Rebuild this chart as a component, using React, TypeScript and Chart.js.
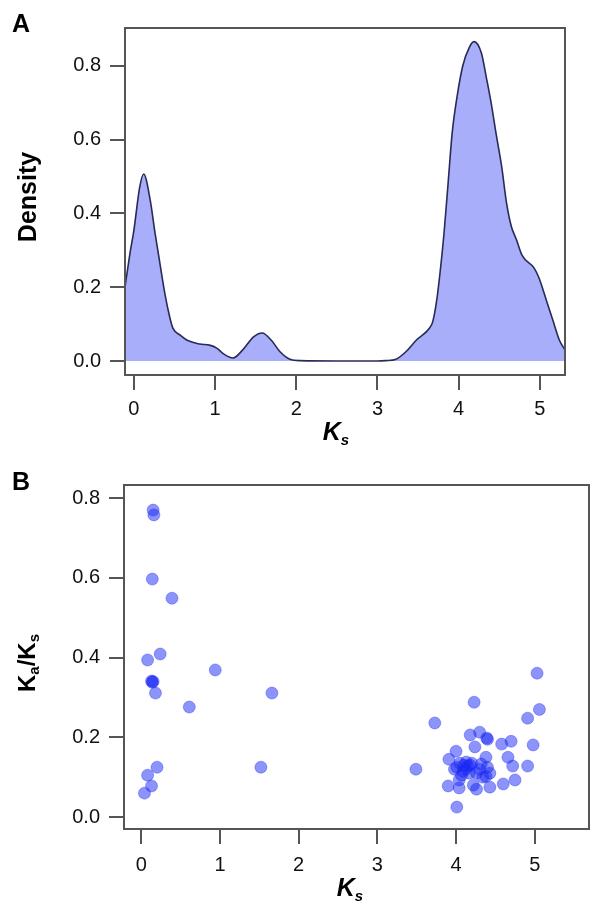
import React, { useEffect, useRef } from 'react';
import { Chart, registerables } from 'chart.js';

Chart.register(...registerables);

// ---------- Panel A: density of Ks ----------
const densityKs = [
  -0.11, -0.05, 0.0, 0.07, 0.12, 0.2, 0.26, 0.32, 0.38, 0.44, 0.48, 0.57, 0.65, 0.81, 0.93,
  1.02, 1.1, 1.22, 1.34, 1.47, 1.58, 1.69, 1.8, 1.92, 2.05, 2.5, 3.0, 3.1, 3.23, 3.35, 3.48,
  3.64, 3.68, 3.73, 3.77, 3.82, 3.87, 3.92, 3.98, 4.05, 4.13, 4.19, 4.28, 4.34, 4.4, 4.46,
  4.53, 4.59, 4.65, 4.71, 4.78, 4.93, 4.99, 5.08, 5.16, 5.24, 5.31,
];
const densityValues = [
  0.2, 0.29, 0.355, 0.47, 0.507, 0.437, 0.347, 0.265, 0.184, 0.12, 0.089, 0.07, 0.057, 0.046, 0.043,
  0.035, 0.02, 0.008, 0.03, 0.065, 0.076, 0.057, 0.025, 0.005, 0.001, 0.0, 0.0, 0.001, 0.005, 0.025, 0.057,
  0.089, 0.106, 0.165, 0.238, 0.347, 0.482, 0.618, 0.716, 0.8, 0.85, 0.866, 0.835, 0.77, 0.7, 0.618,
  0.527, 0.428, 0.364, 0.33, 0.287, 0.252, 0.225, 0.165, 0.111, 0.057, 0.03,
];
const densityTicksX = [0, 1, 2, 3, 4, 5];
const densityTicksY = [0.0, 0.2, 0.4, 0.6, 0.8];

// ---------- Panel B: Ka/Ks vs Ks ----------
const scatterKs = [
  0.15, 0.16, 0.14, 0.39, 0.08, 0.24, 0.13, 0.14, 0.15, 0.18, 0.94, 0.61, 1.66, 1.52, 0.2, 0.08, 0.13, 0.04,
  3.49, 3.73, 3.9, 3.91, 3.98, 4.0, 4.01, 4.01, 4.04, 4.04, 4.05, 4.07, 4.09, 4.1, 4.12, 4.13, 4.15, 4.17,
  4.18, 4.18, 4.2, 4.22, 4.23, 4.24, 4.26, 4.26, 4.3, 4.3, 4.32, 4.34, 4.38, 4.38, 4.39, 4.4, 4.4, 4.43,
  4.43, 4.58, 4.6, 4.66, 4.7, 4.72, 4.75, 4.91, 4.91, 4.98, 5.03, 5.06,
];
const scatterKaKs = [
  0.77, 0.758, 0.597, 0.549, 0.394, 0.409, 0.341, 0.338, 0.34, 0.311, 0.369, 0.276, 0.311, 0.125, 0.125, 0.105, 0.078, 0.06,
  0.12, 0.236, 0.078, 0.145, 0.12, 0.165, 0.125, 0.025, 0.073, 0.093, 0.135, 0.105, 0.115, 0.13, 0.12, 0.138, 0.128, 0.11,
  0.206, 0.13, 0.135, 0.08, 0.288, 0.176, 0.07, 0.11, 0.213, 0.12, 0.133, 0.1, 0.15, 0.102, 0.198, 0.195, 0.125, 0.075,
  0.11, 0.183, 0.083, 0.15, 0.19, 0.128, 0.093, 0.248, 0.128, 0.181, 0.361, 0.27,
];
const scatterTicksX = [0, 1, 2, 3, 4, 5];
const scatterTicksY = [0.0, 0.2, 0.4, 0.6, 0.8];

const FONT = "'Liberation Sans', Arial, Helvetica, sans-serif";
const AXIS_COLOR = '#555555';

const framePlugin = {
  id: 'frame',
  afterDraw(chart: any) {
    const { ctx, chartArea: a } = chart;
    ctx.save();
    ctx.strokeStyle = AXIS_COLOR;
    ctx.lineWidth = 2;
    ctx.strokeRect(a.left, a.top, a.right - a.left, a.bottom - a.top);
    ctx.restore();
  },
};

function makeAxis(
  min: number,
  max: number,
  ticks: number[],
  size: number,
  isY: boolean,
  padding: number,
  fmt: (v: number) => string
) {
  return {
    type: 'linear',
    min,
    max,
    afterBuildTicks: (ax: any) => {
      ax.ticks = ticks.map((v) => ({ value: v }));
    },
    afterFit: (ax: any) => {
      if (isY) ax.width = size;
      else ax.height = size;
    },
    grid: {
      drawOnChartArea: false,
      drawTicks: true,
      tickLength: 15,
      tickColor: AXIS_COLOR,
      tickWidth: 2,
      color: AXIS_COLOR,
      lineWidth: 2,
    },
    border: { display: false },
    ticks: {
      font: { family: FONT, size: 20 },
      color: '#111111',
      padding,
      maxRotation: 0,
      autoSkip: false,
      callback: (v: any) => fmt(Number(v)),
    },
  };
}

export default function App() {
  const refA = useRef<HTMLCanvasElement>(null);
  const refB = useRef<HTMLCanvasElement>(null);

  useEffect(() => {
    const chartA = new Chart(refA.current as HTMLCanvasElement, {
      type: 'line',
      data: {
        datasets: [
          {
            data: densityKs.map((x, i) => ({ x, y: densityValues[i] })),
            borderColor: '#272b55',
            borderWidth: 1.6,
            backgroundColor: 'rgba(160,165,251,0.9)',
            fill: 'origin',
            pointRadius: 0,
            cubicInterpolationMode: 'monotone',
          } as any,
        ],
      },
      options: {
        responsive: false,
        animation: false,
        layout: { autoPadding: false, padding: { top: 28, right: 25, left: 0, bottom: 0 } },
        plugins: { legend: { display: false }, tooltip: { enabled: false } },
        scales: {
          x: makeAxis(-0.11, 5.31, densityTicksX, 75, false, 7, (v) => String(v)) as any,
          y: makeAxis(-0.038, 0.903, densityTicksY, 125, true, 9, (v) => v.toFixed(1)) as any,
        },
      } as any,
      plugins: [framePlugin],
    });

    const chartB = new Chart(refB.current as HTMLCanvasElement, {
      type: 'scatter',
      data: {
        datasets: [
          {
            data: scatterKs.map((x, i) => ({ x, y: scatterKaKs[i] })),
            backgroundColor: 'rgba(25,40,245,0.5)',
            borderColor: 'rgba(25,40,245,0.35)',
            borderWidth: 1,
            pointRadius: 6,
          },
        ],
      },
      options: {
        responsive: false,
        animation: false,
        layout: { autoPadding: false, padding: { top: 35, right: 1, left: 0, bottom: 0 } },
        plugins: { legend: { display: false }, tooltip: { enabled: false } },
        scales: {
          x: makeAxis(-0.22, 5.69, scatterTicksX, 72, false, 9, (v) => String(v)) as any,
          y: makeAxis(-0.03, 0.833, scatterTicksY, 124, true, 9, (v) => v.toFixed(1)) as any,
        },
      } as any,
      plugins: [framePlugin],
    });

    return () => {
      chartA.destroy();
      chartB.destroy();
    };
  }, []);

  const boldLetter: React.CSSProperties = {
    position: 'absolute',
    fontFamily: FONT,
    fontWeight: 'bold',
    fontSize: 25,
    lineHeight: 1,
    color: '#000',
    whiteSpace: 'nowrap',
  };
  const rotated: React.CSSProperties = {
    ...boldLetter,
    transform: 'translate(-50%, -50%) rotate(-90deg)',
  };
  const xTitle: React.CSSProperties = {
    ...boldLetter,
    fontStyle: 'italic',
    transform: 'translateX(-50%)',
  };
  const sub: React.CSSProperties = { fontSize: 15, verticalAlign: '-0.3em' };

  return (
    <div
      style={{
        position: 'absolute',
        left: 0,
        top: 0,
        width: 590,
        height: 901,
        overflow: 'hidden',
        background: '#fff',
      }}
    >
      <canvas ref={refA} width={590} height={450} style={{ position: 'absolute', left: 0, top: 0 }} />
      <canvas ref={refB} width={590} height={451} style={{ position: 'absolute', left: 0, top: 450 }} />

      <div style={{ ...boldLetter, left: 12, top: 11 }}>A</div>
      <div style={{ ...boldLetter, left: 12, top: 469 }}>B</div>

      <div style={{ ...rotated, left: 27, top: 197 }}>Density</div>
      <div style={{ ...rotated, fontSize: 24, left: 28, top: 663 }}>
        K<span style={sub}>a</span>/K<span style={sub}>s</span>
      </div>

      <div style={{ ...xTitle, left: 336, top: 419 }}>
        K<span style={sub}>s</span>
      </div>
      <div style={{ ...xTitle, left: 350, top: 875 }}>
        K<span style={sub}>s</span>
      </div>
    </div>
  );
}
